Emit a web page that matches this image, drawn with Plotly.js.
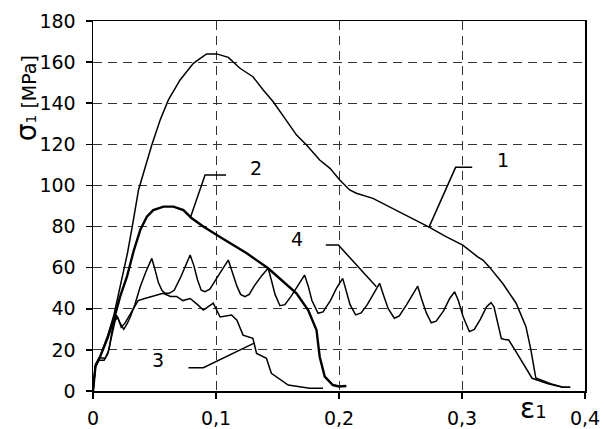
<!DOCTYPE html>
<html>
<head>
<meta charset="utf-8">
<script src="https://cdn.plot.ly/plotly-3.0.1.min.js"></script>
<style>
  html, body { margin: 0; padding: 0; background: #fff; }
  #chart { width: 604px; height: 429px; }
</style>
</head>
<body>
<div id="chart"></div>
<script>
// Stress–strain curves σ1(ε1) for four specimens
const strain1 = [0, 0.002, 0.006, 0.012, 0.017, 0.0221, 0.028, 0.0328, 0.037, 0.0425, 0.0478, 0.0546, 0.0613, 0.0708, 0.0816, 0.0872, 0.0924, 0.1006, 0.11, 0.1195, 0.13, 0.1384, 0.1465, 0.157, 0.1655, 0.1736, 0.1843, 0.1927, 0.2006, 0.2087, 0.2141, 0.2276, 0.2466, 0.26, 0.2736, 0.287, 0.3006, 0.3127, 0.317, 0.322, 0.333, 0.344, 0.352, 0.356, 0.359, 0.360, 0.372, 0.382, 0.388];
const stress1 = [0, 12, 17, 27, 37, 50.7, 67, 83, 97.8, 109, 119.7, 131.8, 141.6, 151.3, 159.4, 161.8, 164, 164, 162.3, 157, 152.9, 146.4, 140.7, 131.8, 124.5, 119.7, 112.4, 108.3, 102.6, 97.8, 96.2, 93.7, 88, 84, 79.6, 75.1, 71, 65.3, 63.7, 60.5, 52.4, 42.7, 31.3, 20, 8.6, 6.3, 3.5, 1.8, 1.8];

const strain2 = [0, 0.002, 0.006, 0.012, 0.017, 0.0221, 0.0276, 0.033, 0.0384, 0.0438, 0.049, 0.0573, 0.0654, 0.0735, 0.0803, 0.0897, 0.1006, 0.1114, 0.125, 0.1424, 0.1654, 0.1749, 0.1817, 0.1843, 0.1884, 0.195, 0.2, 0.206];
const stress2 = [0, 12, 17, 26, 35, 46, 55.6, 68, 78.3, 84.8, 88, 89.7, 89.7, 88, 84, 80, 75.9, 71.9, 67, 59.7, 47.5, 39.4, 29.7, 16.7, 7, 2.9, 2.2, 2.4];

const strain3 = [0, 0.002, 0.005, 0.01, 0.013, 0.0165, 0.02, 0.023, 0.026, 0.03, 0.0367, 0.042, 0.049, 0.057, 0.063, 0.068, 0.073, 0.079, 0.085, 0.0897, 0.0978, 0.1033, 0.1127, 0.117, 0.122, 0.13, 0.133, 0.141, 0.145, 0.1587, 0.176, 0.187];
const stress3 = [0, 13, 16, 16, 20, 33, 36, 31, 33, 37, 44, 45, 46, 47.5, 46, 46, 44, 45, 42, 39.4, 42.7, 36, 37, 34.4, 27.2, 25.6, 18.3, 15.9, 8.6, 2.9, 1.3, 1.3];

const strain4 = [0, 0.002, 0.005, 0.009, 0.012, 0.0167, 0.019, 0.022, 0.025, 0.028, 0.0303, 0.034, 0.0384, 0.043, 0.0478, 0.05, 0.053, 0.056, 0.0587, 0.062, 0.066, 0.071, 0.075, 0.079, 0.082, 0.085, 0.088, 0.091, 0.095, 0.1, 0.105, 0.11, 0.113, 0.117, 0.12, 0.1235, 0.127, 0.131, 0.137, 0.1424, 0.145, 0.148, 0.152, 0.156, 0.161, 0.167, 0.172, 0.175, 0.178, 0.183, 0.187, 0.193, 0.198, 0.203, 0.206, 0.209, 0.2135, 0.218, 0.223, 0.228, 0.233, 0.236, 0.24, 0.245, 0.249, 0.255, 0.26, 0.264, 0.267, 0.271, 0.275, 0.279, 0.285, 0.29, 0.294, 0.297, 0.301, 0.306, 0.31, 0.315, 0.32, 0.3236, 0.326, 0.329, 0.332, 0.335, 0.338, 0.343, 0.35, 0.357, 0.37, 0.382, 0.388];
const stress4 = [0, 12, 15, 15, 18, 30, 37, 33, 30, 33, 36, 42, 50.7, 58, 64.5, 60, 53, 49, 47.5, 47.5, 49, 55, 61, 66.2, 61, 54, 49, 48.3, 49.5, 54, 59, 63.7, 58, 51, 47, 45.9, 47, 51, 56, 59.7, 54, 47, 41.5, 42, 46, 52, 56.4, 51, 44, 37.8, 38.5, 44, 50, 54.8, 49, 42, 37, 38, 42, 47, 52.4, 47, 40, 35.4, 36.5, 42, 47, 51, 45, 38, 33.2, 34, 39, 45, 48.3, 44, 36, 28.9, 30, 35, 41, 43, 41, 33, 25.5, 25, 24.8, 20, 13, 6.2, 3.5, 1.8, 1.8];

const curveNames = ['1', '2', '3', '4'];
const xTickVals = [0, 0.1, 0.2, 0.3, 0.4];
const xTickText = ['0', '0,1', '0,2', '0,3', '0,4'];
const yTickVals = [0, 20, 40, 60, 80, 100, 120, 140, 160, 180];

const FONT = 'DejaVu Sans, Liberation Sans, Arial, sans-serif';

const series = [
  [strain1, stress1, 1.5],
  [strain2, stress2, 2.4],
  [strain3, stress3, 1.5],
  [strain4, stress4, 1.5]
];

const traces = series.map((s, i) => ({
  type: 'scatter',
  mode: 'lines',
  name: curveNames[i],
  x: s[0],
  y: s[1],
  line: { color: '#000', width: s[2] },
  hoverinfo: 'skip',
  showlegend: false
}));

// Curve labels with their leader lines (label anchor, then polyline to the curve)
const callouts = [
  { text: '1', at: [0.333, 112.4], leader: [[0.3083, 108.8], [0.2948, 108.8], [0.2731, 79.6]] },
  { text: '2', at: [0.1325, 108.3], leader: [[0.1082, 105.1], [0.0911, 105.1], [0.079, 84]] },
  { text: '3', at: [0.053, 15.1], leader: [[0.0776, 11.3], [0.0897, 11.3], [0.131, 23.3]] },
  { text: '4', at: [0.166, 73.8], leader: [[0.1893, 71], [0.1995, 71], [0.2304, 50.7]] }
];

const shapes = callouts.map(c => ({
  type: 'path',
  xref: 'x', yref: 'y',
  path: 'M' + c.leader.map(p => p[0] + ',' + p[1]).join(' L'),
  line: { color: '#000', width: 1.5 }
}));

const annotations = callouts.map(c => ({
  x: c.at[0], y: c.at[1], xref: 'x', yref: 'y',
  text: c.text, showarrow: false,
  xanchor: 'center', yanchor: 'middle',
  font: { family: FONT, size: 19, color: '#000' }
}));

annotations.push({
  xref: 'paper', yref: 'paper', x: -0.135, y: 0.79,
  xanchor: 'center', yanchor: 'middle', textangle: -90, showarrow: false,
  text: '<span style="font-size:28px">σ</span><span style="font-size:14px">1</span><span style="font-size:19px"> [MPa]</span>',
  font: { family: FONT, size: 19, color: '#000' }
});
annotations.push({
  xref: 'paper', yref: 'paper', x: 0.895, y: -0.046,
  xanchor: 'center', yanchor: 'middle', showarrow: false,
  text: '<span style="font-size:28px">ε</span><span style="font-size:18px">1</span>',
  font: { family: FONT, size: 19, color: '#000' }
});

const layout = {
  width: 604, height: 429,
  margin: { l: 93, r: 19, t: 21, b: 38 },
  paper_bgcolor: '#fff', plot_bgcolor: '#fff',
  font: { family: FONT, size: 19, color: '#000' },
  xaxis: {
    range: [0, 0.4], tickvals: xTickVals, ticktext: xTickText,
    showline: true, linecolor: '#000', linewidth: 1.5, mirror: true,
    ticks: 'outside', ticklen: 6, tickwidth: 1.5, tickcolor: '#000',
    showgrid: true, gridcolor: '#333', gridwidth: 1, griddash: '9px,6px',
    zeroline: false, ticklabelstandoff: 4,
    tickfont: { family: FONT, size: 19, color: '#000' }
  },
  yaxis: {
    range: [0, 180], tickvals: yTickVals,
    showline: true, linecolor: '#000', linewidth: 1.5, mirror: true,
    ticks: 'outside', ticklen: 6, tickwidth: 1.5, tickcolor: '#000',
    showgrid: true, gridcolor: '#333', gridwidth: 1, griddash: '9px,6px',
    zeroline: false, ticklabelstandoff: 6,
    tickfont: { family: FONT, size: 19, color: '#000' }
  },
  shapes: shapes,
  annotations: annotations
};

Plotly.newPlot('chart', traces, layout, { staticPlot: true, displayModeBar: false });
</script>
</body>
</html>
